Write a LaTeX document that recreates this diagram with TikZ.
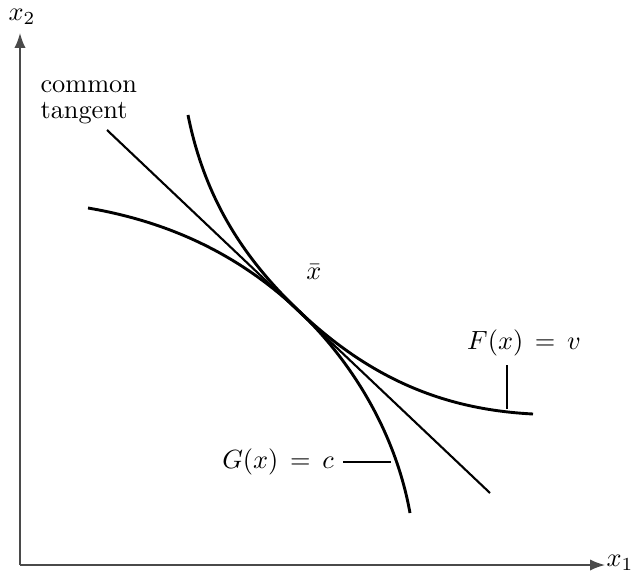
\documentclass[tikz,border=0pt]{standalone}
\usepackage{amsmath,amssymb}
\usepackage{tikz}
\usetikzlibrary{positioning,arrows.meta,calc}
\definecolor{axisgray}{HTML}{4A4A4A}
\def\Fcurve{(188,115) .. controls (205,200) and (245,260) .. (300,312)
  .. controls (378,386) and (455,410) .. (533,414)}
\def\Gcurve{(88,208) .. controls (170,222) and (240,255) .. (300,312)
  .. controls (350,360) and (395,430) .. (410,513)}

\begin{document}
\begin{tikzpicture}[>=Latex, x=0.38pt, y=-0.38pt,
    axisline/.style={axisgray, line width=0.6pt},
    curve/.style={line width=1.1pt},
    leader/.style={line width=0.4pt}]
  \useasboundingbox (0,0) rectangle (633,571);
  \coordinate (origin) at (20,565);
  \coordinate (ytip) at (20,33);
  \coordinate (xtip) at (605,565);
  \draw[axisline, ->] (origin) -- (ytip);
  \draw[axisline, ->] (origin) -- (xtip);
  \node (ylab) at (22,17) {$x_2$};
  \node (xlab) at (620,563) {$x_1$};
  \coordinate (tstart) at (107,130);
  \coordinate (tend) at (490,493);
  \draw[line width=0.8pt] (tstart) -- (tend);
  \draw[curve] \Fcurve;
  \draw[curve] \Gcurve;
  \node[align=left, anchor=west, inner sep=0pt] (tanlab) at (40,102) {common\\[-2pt]tangent};
  \node (xbar) at (314,272) {$\bar{x}$};
  \node (flabel) at (524,343) {$F(x)\,=\,v$};
  \node (glabel) at (278,462) {$G(x)\,=\,c$};
  \coordinate (fc) at (507,409);
  \coordinate (gc) at (391,462);
  \draw[leader] (fc) -- (fc |- flabel.south);
  \draw[leader] (gc) -- (gc -| glabel.east);
\end{tikzpicture}
\end{document}
